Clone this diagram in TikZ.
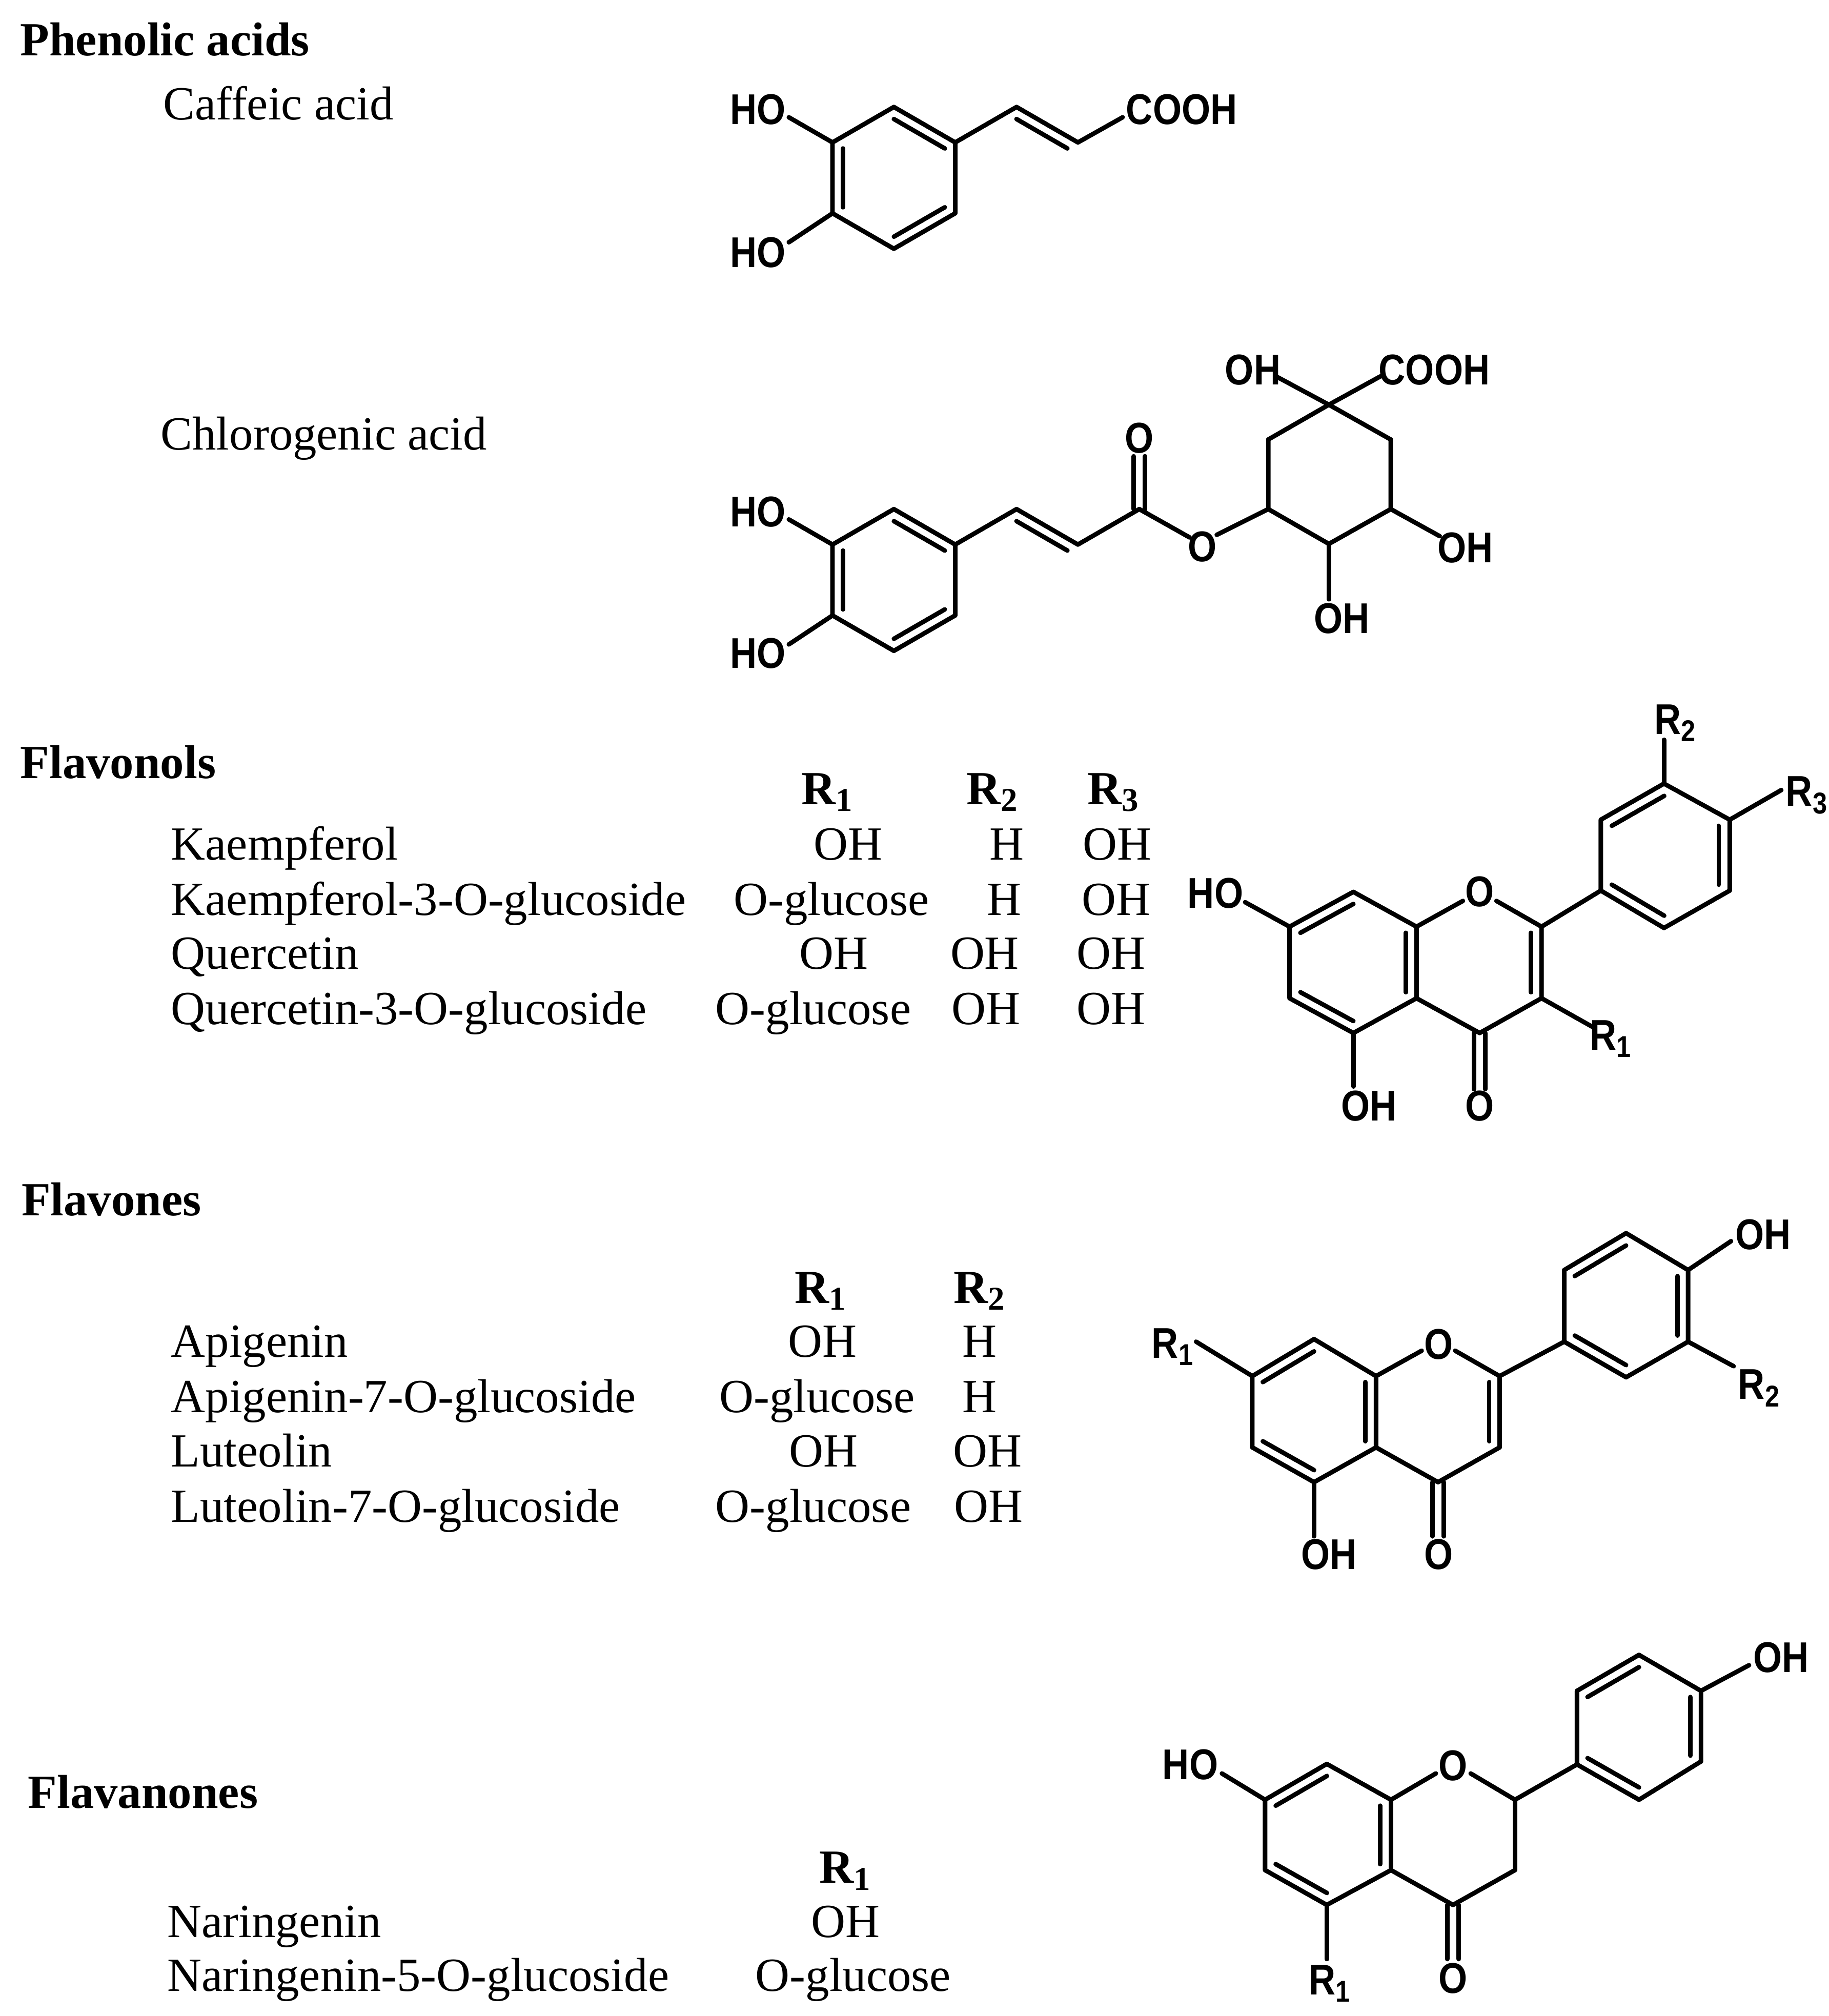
\documentclass[tikz,border=0pt]{standalone}
\usepackage{fontspec}
\setmainfont{Liberation Serif}
\newfontfamily\chemfont[FakeStretch=0.86]{Liberation Sans}
\usetikzlibrary{calc}
\newcommand\dbl[3]{\draw ($(#1)!0.17!(#3)$) -- ($(#2)!0.17!(#3)$);}
\tikzset{
  txt/.style={font=\fontsize{21}{25}\selectfont,anchor=base,inner sep=0pt},
  cname/.style={txt,anchor=base west},
  ttl/.style={txt,anchor=base west,font=\fontsize{21}{25}\selectfont\bfseries},
  hdr/.style={txt,font=\fontsize{21}{25}\selectfont\bfseries},
  lab/.style={font=\chemfont\bfseries\fontsize{19}{22}\selectfont,inner sep=0pt}}
\begin{document}
\begin{tikzpicture}[x=0.02cm,y=-0.02cm,line width=2pt,line cap=round,line join=round]
\useasboundingbox (0,0) rectangle (1419,1564.2);

% ---------------- texts ----------------
\node[ttl] (t1) at (14,43) {Phenolic acids};
\node[cname] (n1) at (125,93) {Caffeic acid};
\node[cname] (n2) at (123,349) {Chlorogenic acid};
\node[ttl] (t2) at (14,604) {Flavonols};
\node[hdr] (h1) at (642,624) {R\textsubscript{1}};
\node[hdr] (h2) at (770,624) {R\textsubscript{2}};
\node[hdr] (h3) at (864,624) {R\textsubscript{3}};
\node[cname] (k1) at (131,667) {Kaempferol};
\node[cname] (k2) at (131,710) {Kaempferol-3-O-glucoside};
\node[cname] (k3) at (131,752) {Quercetin};
\node[cname] (k4) at (131,795) {Quercetin-3-O-glucoside};
\node[txt] at (658,667) {OH};\node[txt] at (781,667) {H};\node[txt] at (867,667) {OH};
\node[txt] at (645,710) {O-glucose};\node[txt] at (779,710) {H};\node[txt] at (866,710) {OH};
\node[txt] at (647,752) {OH};\node[txt] at (764,752) {OH};\node[txt] at (862,752) {OH};
\node[txt] at (631,795) {O-glucose};\node[txt] at (765,795) {OH};\node[txt] at (862,795) {OH};
\node[ttl] (t3) at (15,943) {Flavones};
\node[hdr] at (637,1011) {R\textsubscript{1}};
\node[hdr] at (760,1011) {R\textsubscript{2}};
\node[cname] at (131,1053) {Apigenin};
\node[cname] at (131,1096) {Apigenin-7-O-glucoside};
\node[cname] at (131,1138) {Luteolin};
\node[cname] at (131,1181) {Luteolin-7-O-glucoside};
\node[txt] at (638,1053) {OH};\node[txt] at (760,1053) {H};
\node[txt] at (634,1096) {O-glucose};\node[txt] at (760,1096) {H};
\node[txt] at (639,1138) {OH};\node[txt] at (766,1138) {OH};
\node[txt] at (631,1181) {O-glucose};\node[txt] at (767,1181) {OH};
\node[ttl] (t4) at (20,1403) {Flavanones};
\node[hdr] at (656,1461) {R\textsubscript{1}};
\node[cname] at (128,1503) {Naringenin};
\node[cname] at (128,1545) {Naringenin-5-O-glucoside};
\node[txt] at (656,1503) {OH};
\node[txt] at (662,1545) {O-glucose};

% ---------------- caffeic acid ----------------
\coordinate (cT) at (693.5,83);\coordinate (cUR) at (741.1,110.5);\coordinate (cLR) at (741.1,165.5);
\coordinate (cB) at (693.5,193);\coordinate (cLL) at (645.9,165.5);\coordinate (cUL) at (645.9,110.5);
\coordinate (cC) at (693.5,138);
\coordinate (cv1) at (788.7,83);\coordinate (cv2) at (836.3,110.5);\coordinate (cvc) at (788.3,138);
\draw (cT)--(cUR)--(cLR)--(cB)--(cLL)--(cUL)--cycle;
\dbl{cUL}{cLL}{cC}\dbl{cT}{cUR}{cC}\dbl{cB}{cLR}{cC}
\draw (cUR)--(cv1)--(cv2)--(871,91);
\dbl{cv1}{cv2}{cvc}
\node[lab] (cHO1) at (588,85) {HO};\node[lab] (cHO2) at (588,196) {HO};
\node[lab,anchor=west] (cCOOH) at (872,85) {COOH};
\draw (cUL)--(612,91);\draw (cLL)--(612,188);

% ---------------- chlorogenic acid ----------------
\coordinate (gT) at (693.5,395);\coordinate (gUR) at (741.1,422.5);\coordinate (gLR) at (741.1,477.5);
\coordinate (gB) at (693.5,505);\coordinate (gLL) at (645.9,477.5);\coordinate (gUL) at (645.9,422.5);
\coordinate (gC) at (693.5,450);
\coordinate (gv1) at (788.7,395);\coordinate (gv2) at (836.3,422.5);\coordinate (gvc) at (788.3,450);
\coordinate (gCO) at (883.9,395);
\draw (gT)--(gUR)--(gLR)--(gB)--(gLL)--(gUL)--cycle;
\dbl{gUL}{gLL}{gC}\dbl{gT}{gUR}{gC}\dbl{gB}{gLR}{gC}
\draw (gUR)--(gv1)--(gv2)--(gCO);
\dbl{gv1}{gv2}{gvc}
\node[lab] (gHO1) at (588,397) {HO};\node[lab] (gHO2) at (588,507) {HO};
\draw (gUL)--(612,403);\draw (gLL)--(612,500);
\node[lab] (gO1) at (884,340) {O};
\draw ([xshift=-2.5pt]gCO)--([xshift=-2.5pt]883.9,354);\draw ([xshift=2.5pt]gCO)--([xshift=2.5pt]883.9,354);
\node[lab] (gO2) at (933,424) {O};
\coordinate (qT) at (1031,314);\coordinate (qUL) at (984,341);\coordinate (qLL) at (984,395);
\coordinate (qB) at (1031,422);\coordinate (qLR) at (1079,395);\coordinate (qUR) at (1079,341);
\draw (gCO)--(923,417);\draw (944,415)--(qLL);
\draw (qT)--(qUR)--(qLR)--(qB)--(qLL)--(qUL)--cycle;
\node[lab] (qOH1) at (972,287) {OH};\node[lab,anchor=west] (qCOOH) at (1068,287) {COOH};
\node[lab] (qOH2) at (1137,425) {OH};\node[lab] (qOH3) at (1041,480) {OH};
\draw (qT)--(990,292);\draw (qT)--(1071,292);
\draw (qLR)--(1117,416);\draw (qB)--(1031,465);

% ---------------- flavonol ----------------
\coordinate (a7) at (1000.5,719);\coordinate (a8) at (1050,692);\coordinate (a8a) at (1099,719);
\coordinate (a4a) at (1099,774.5);\coordinate (a5) at (1050,801.5);\coordinate (a6) at (1000.5,774.5);
\coordinate (aC) at (1050,747);
\coordinate (a2) at (1196,719);\coordinate (a3) at (1196,774.5);\coordinate (a4) at (1148,801.5);
\coordinate (cC2) at (1148,747);
\coordinate (b1) at (1242,691);\coordinate (b2) at (1242,636);\coordinate (b3) at (1291,608);
\coordinate (b4) at (1342,636);\coordinate (b5) at (1342,691);\coordinate (b6) at (1291,720);
\coordinate (bC) at (1292,664);
\draw (a7)--(a8)--(a8a)--(a4a)--(a5)--(a6)--cycle;
\dbl{a7}{a8}{aC}\dbl{a8a}{a4a}{aC}\dbl{a5}{a6}{aC}
\node[lab] (aO) at (1148,692) {O};
\draw (a8a)--(1135,699);\draw (1161,699)--(a2)--(a3)--(a4)--(a4a);
\dbl{a2}{a3}{cC2}
\draw ([xshift=-2.5pt]a4)--([xshift=-2.5pt]1148,845);\draw ([xshift=2.5pt]a4)--([xshift=2.5pt]1148,845);
\node[lab] (aO2) at (1148,858) {O};
\draw (a5)--(1050,843);\node[lab] (aOH) at (1062,858) {OH};
\draw (a7)--(966,700);\node[lab] (aHO) at (943,693) {HO};
\draw (a3)--(1236,797);\node[lab] (aR1) at (1250,806) {R\textsubscript{1}};
\draw (a2)--(b1);
\draw (b1)--(b2)--(b3)--(b4)--(b5)--(b6)--cycle;
\dbl{b2}{b3}{bC}\dbl{b4}{b5}{bC}\dbl{b1}{b6}{bC}
\draw (b3)--(1291,574);\node[lab] (aR2) at (1300,561) {R\textsubscript{2}};
\draw (b4)--(1382,613);\node[lab] (aR3) at (1402,617) {R\textsubscript{3}};

% ---------------- flavone ----------------
\coordinate (f7) at (971.6,1067.7);\coordinate (f8) at (1019.5,1039);\coordinate (f8a) at (1067.6,1067.7);
\coordinate (f4a) at (1067.6,1123);\coordinate (f5) at (1019.5,1150);\coordinate (f6) at (971.6,1123);
\coordinate (fC) at (1019.5,1095);
\coordinate (f2) at (1163.5,1067.7);\coordinate (f3) at (1163.5,1123);\coordinate (f4) at (1115.7,1150);
\coordinate (fC2) at (1115.7,1095);
\coordinate (e1) at (1213.6,1041);\coordinate (e2) at (1213.6,985.4);\coordinate (e3) at (1261.6,956.8);
\coordinate (e4) at (1309.7,985.4);\coordinate (e5) at (1309.7,1041);\coordinate (e6) at (1261.6,1068.6);
\coordinate (eC) at (1261.6,1013);
\draw (f7)--(f8)--(f8a)--(f4a)--(f5)--(f6)--cycle;
\dbl{f7}{f8}{fC}\dbl{f8a}{f4a}{fC}\dbl{f5}{f6}{fC}
\node[lab] (fO) at (1116,1043) {O};
\draw (f8a)--(1103,1048);\draw (1129,1048)--(f2)--(f3)--(f4)--(f4a);
\dbl{f2}{f3}{fC2}
\draw ([xshift=-2.5pt]f4)--([xshift=-2.5pt]1115.7,1192);\draw ([xshift=2.5pt]f4)--([xshift=2.5pt]1115.7,1192);
\node[lab] (fO2) at (1116,1206) {O};
\draw (f5)--(1019.5,1192);\node[lab] (fOH) at (1031,1206) {OH};
\draw (f7)--(928,1041);\node[lab] (fR1) at (910,1045) {R\textsubscript{1}};
\draw (f2)--(e1);
\draw (e1)--(e2)--(e3)--(e4)--(e5)--(e6)--cycle;
\dbl{e2}{e3}{eC}\dbl{e4}{e5}{eC}\dbl{e1}{e6}{eC}
\draw (e4)--(1343,963);\node[lab] (fOH2) at (1368,958) {OH};
\draw (e5)--(1345,1060);\node[lab] (fR2) at (1365,1077) {R\textsubscript{2}};

% ---------------- flavanone ----------------
\coordinate (n7) at (981.5,1396.4);\coordinate (n8) at (1029.4,1368.6);\coordinate (n8a) at (1079.2,1396.4);
\coordinate (n4a) at (1079.2,1451);\coordinate (n5) at (1029.4,1478);\coordinate (n6) at (981.5,1451);
\coordinate (nC) at (1030,1423.5);
\coordinate (n2) at (1175.4,1396.4);\coordinate (n3) at (1175.4,1451);\coordinate (n4) at (1127.3,1478);
\coordinate (m1) at (1223.5,1369);\coordinate (m2) at (1223.5,1311.9);\coordinate (m3) at (1271.6,1284);
\coordinate (m4) at (1319.7,1311.9);\coordinate (m5) at (1319.7,1366.7);\coordinate (m6) at (1271.6,1396.4);
\coordinate (mC) at (1271.6,1340);
\draw (n7)--(n8)--(n8a)--(n4a)--(n5)--(n6)--cycle;
\dbl{n7}{n8}{nC}\dbl{n8a}{n4a}{nC}\dbl{n5}{n6}{nC}
\node[lab] (nO) at (1127.3,1370) {O};
\draw (n8a)--(1114,1376);\draw (1141,1376)--(n2)--(n3)--(n4)--(n4a);
\draw ([xshift=-2.5pt]n4)--([xshift=-2.5pt]1127.3,1520);\draw ([xshift=2.5pt]n4)--([xshift=2.5pt]1127.3,1520);
\node[lab] (nO2) at (1127.3,1535) {O};
\draw (n5)--(1029.4,1520);\node[lab] (nR1) at (1032,1539) {R\textsubscript{1}};
\draw (n7)--(948,1376);\node[lab] (nHO) at (923.5,1369) {HO};
\draw (n2)--(m1);
\draw (m1)--(m2)--(m3)--(m4)--(m5)--(m6)--cycle;
\dbl{m2}{m3}{mC}\dbl{m4}{m5}{mC}\dbl{m1}{m6}{mC}
\draw (m4)--(1357,1292);\node[lab] (nOH) at (1382,1286) {OH};
\end{tikzpicture}
\end{document}
